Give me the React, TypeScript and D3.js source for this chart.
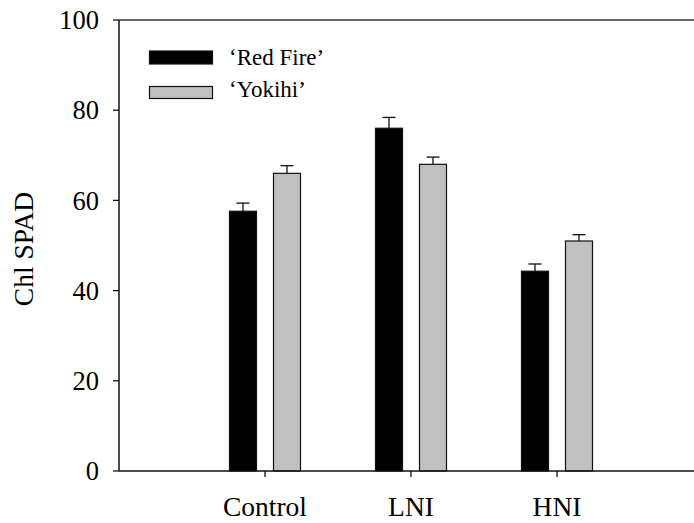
import React from "react";
import * as d3 from "d3";

// Treatments along the x axis and the two cultivars
const categories = ["Control", "LNI", "HNI"];
const seriesNames = ["‘Red Fire’", "‘Yokihi’"];
const redFire = [57.6, 76.0, 44.3];
const redFireErr = [1.8, 2.4, 1.6];
const yokihi = [66.0, 68.0, 51.0];
const yokihiErr = [1.7, 1.6, 1.4];
const yTicks = [0, 20, 40, 60, 80, 100];

const W = 694;
const H = 523;
const FONT = "'Liberation Serif', 'Times New Roman', serif";

export default function App() {
  const left = 119;
  const top = 20;
  const bottom = 471;
  const step = 146;

  const y = d3.scaleLinear().domain([0, 100]).range([bottom, top]);
  // category positions: 0 and 4 are the empty ends of the axis
  const x = d3.scaleLinear().domain([0, 4]).range([left, left + 4 * step]);

  const barW = 27;
  const gap = 17;
  const fills = ["#000000", "#c0c0c0"];
  const series = [
    { values: redFire, errs: redFireErr },
    { values: yokihi, errs: yokihiErr },
  ];

  return (
    <svg
      width={W}
      height={H}
      style={{ position: "absolute", left: 0, top: 0, background: "#fff" }}
      fontFamily={FONT}
    >
      {/* bars with upward error bars */}
      {categories.map((c, i) => {
        const cx = x(i + 1);
        return series.map((s, k) => {
          const x0 = k === 0 ? cx - gap / 2 - barW : cx + gap / 2;
          const v = s.values[i];
          const e = s.errs[i];
          const mid = x0 + barW / 2;
          return (
            <g key={c + k}>
              <line x1={mid} x2={mid} y1={y(v)} y2={y(v + e)} stroke="#111" strokeWidth={1.3} />
              <line x1={mid - 6.5} x2={mid + 6.5} y1={y(v + e)} y2={y(v + e)} stroke="#111" strokeWidth={1.3} />
              <rect
                x={x0}
                y={y(v)}
                width={barW}
                height={y(0) - y(v)}
                fill={fills[k]}
                stroke="#111"
                strokeWidth={1.2}
              />
            </g>
          );
        });
      })}

      {/* axes */}
      <line x1={left} x2={W} y1={top} y2={top} stroke="#333" strokeWidth={1.5} />
      <line x1={left} x2={left} y1={top} y2={bottom} stroke="#111" strokeWidth={1.5} />
      <line x1={left} x2={W} y1={bottom} y2={bottom} stroke="#111" strokeWidth={1.5} />

      {yTicks.map((t) => (
        <g key={t}>
          <line x1={left - 6} x2={left} y1={y(t)} y2={y(t)} stroke="#111" strokeWidth={1.3} />
          <text x={left - 20} y={y(t)} dy="0.35em" textAnchor="end" fontSize={26.5} fill="#000">
            {t}
          </text>
        </g>
      ))}

      {categories.map((c, i) => (
        <g key={c}>
          <line x1={x(i + 1)} x2={x(i + 1)} y1={bottom} y2={bottom + 6} stroke="#111" strokeWidth={1.3} />
          <text x={x(i + 1)} y={516} textAnchor="middle" fontSize={27.5} fill="#000">
            {c}
          </text>
        </g>
      ))}

      <text
        transform={`translate(33, 249) rotate(-90)`}
        textAnchor="middle"
        fontSize={27.5}
        fill="#000"
      >
        Chl SPAD
      </text>

      {/* legend */}
      {seriesNames.map((n, k) => (
        <g key={n}>
          <rect
            x={149.5}
            y={k === 0 ? 51 : 86.5}
            width={63}
            height={k === 0 ? 13 : 12}
            fill={fills[k]}
            stroke="#111"
            strokeWidth={1.2}
          />
          <text x={229} y={k === 0 ? 65 : 97} fontSize={23} fill="#000">
            {n}
          </text>
        </g>
      ))}
    </svg>
  );
}
